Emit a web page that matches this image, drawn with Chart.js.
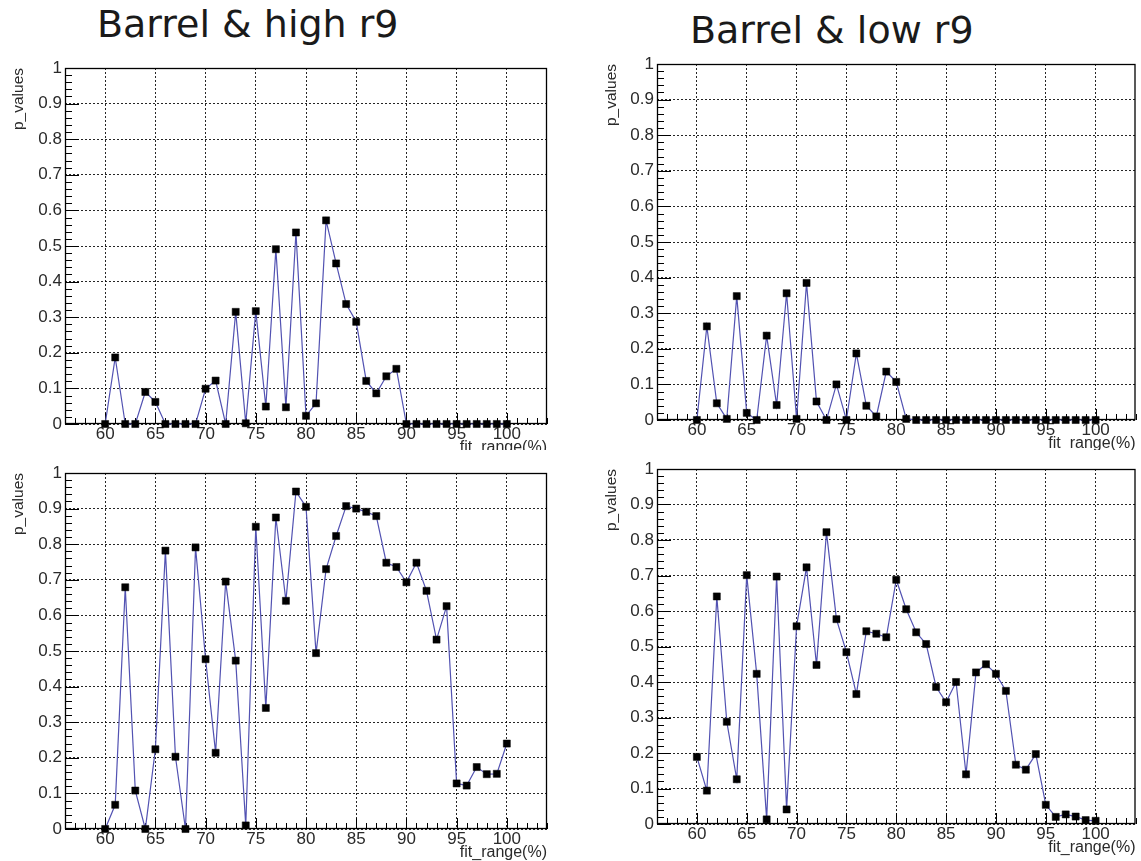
<!DOCTYPE html>
<html><head><meta charset="utf-8">
<script src="https://cdn.jsdelivr.net/npm/chart.js@4/dist/chart.umd.min.js"></script>
<style>
html,body{margin:0;padding:0;background:#fff;}
body{width:1141px;height:861px;position:relative;overflow:hidden;}
.c{position:absolute;}
.t{position:absolute;font-family:"DejaVu Sans";font-size:38px;line-height:38px;color:#1a1a1a;white-space:nowrap;}
</style></head><body>
<div class="t" style="left:97px;top:5px">Barrel &amp; high r9</div>
<div class="t" style="left:690px;top:11px">Barrel &amp; low r9</div>
<canvas id="c1" class="c" width="570" height="450" style="left:0;top:0"></canvas>
<canvas id="c2" class="c" width="571" height="450" style="left:570px;top:0"></canvas>
<canvas id="c3" class="c" width="570" height="411" style="left:0;top:450px"></canvas>
<canvas id="c4" class="c" width="571" height="411" style="left:570px;top:450px"></canvas>
<script>
// ---- data ----
const fitRange = [60,61,62,63,64,65,66,67,68,69,70,71,72,73,74,75,76,77,78,79,80,
                  81,82,83,84,85,86,87,88,89,90,91,92,93,94,95,96,97,98,99,100];
const highR9Top = [0,0.187,0,0,0.09,0.062,0,0,0,0,0.099,0.122,0,0.315,0.002,0.317,0.049,0.491,0.047,0.538,0.023,
                   0.058,0.572,0.451,0.337,0.287,0.121,0.086,0.134,0.155,0,0,0,0,0,0,0,0,0,0,0];
const lowR9Top = [0,0.263,0.047,0.003,0.348,0.02,0,0.237,0.042,0.356,0.003,0.385,0.052,0,0.1,0,0.187,0.04,0.01,0.136,0.107,
                  0.003,0,0,0,0,0,0,0,0,0,0,0,0,0,0,0,0,0,0,0];
const highR9Bottom = [0,0.068,0.679,0.108,0,0.224,0.782,0.203,0,0.791,0.477,0.214,0.695,0.473,0.01,0.849,0.34,0.875,0.641,0.948,0.905,
                      0.494,0.73,0.823,0.907,0.9,0.891,0.879,0.748,0.736,0.693,0.748,0.669,0.532,0.626,0.128,0.122,0.174,0.154,0.155,0.24];
const lowR9Bottom = [0.189,0.094,0.641,0.288,0.126,0.701,0.423,0.013,0.697,0.041,0.557,0.723,0.448,0.822,0.577,0.484,0.366,0.543,0.536,0.526,0.688,
                     0.605,0.54,0.507,0.386,0.343,0.4,0.14,0.427,0.45,0.423,0.375,0.167,0.153,0.197,0.054,0.02,0.027,0.021,0.011,0.009];
const xTicks = [60,65,70,75,80,85,90,95,100];
const xTickLabels = ['60','65','70','75','80','85','90','95','100'];
const yTicks = [0,0.1,0.2,0.3,0.4,0.5,0.6,0.7,0.8,0.9,1];
const yTickLabels = ['0','0.1','0.2','0.3','0.4','0.5','0.6','0.7','0.8','0.9','1'];
const xMinorTicks = [57,58,59,61,62,63,64,66,67,68,69,71,72,73,74,76,77,78,79,81,82,83,84,86,87,88,89,91,92,93,94,96,97,98,99,101,102,103,104];
const yMinorTicks = [0.02,0.04,0.06,0.08,0.12,0.14,0.16,0.18,0.22,0.24,0.26,0.28,0.32,0.34,0.36,0.38,0.42,0.44,0.46,0.48,
                     0.52,0.54,0.56,0.58,0.62,0.64,0.66,0.68,0.72,0.74,0.76,0.78,0.82,0.84,0.86,0.88,0.92,0.94,0.96,0.98];
const xTitle = 'fit_range(%)';
const yTitle = 'p_values';

const FONT = '"Liberation Sans", Arial, Helvetica, sans-serif';
const XH = 33;

const rootFrame = {
  id: 'rootFrame',
  beforeDatasetsDraw(chart) {
    const {ctx, chartArea: a, scales: {x, y}} = chart;
    ctx.save();
    ctx.strokeStyle = '#000';
    ctx.lineWidth = 1;
    ctx.beginPath();
    xTicks.forEach(v => { const px = Math.round(x.getPixelForValue(v)) + 0.5; ctx.moveTo(px, a.bottom); ctx.lineTo(px, a.bottom - 11); });
    xMinorTicks.forEach(v => { const px = Math.round(x.getPixelForValue(v)) + 0.5; ctx.moveTo(px, a.bottom); ctx.lineTo(px, a.bottom - 6); });
    yTicks.forEach(v => { const py = Math.round(y.getPixelForValue(v)) + 0.5; ctx.moveTo(a.left, py); ctx.lineTo(a.left + 14, py); });
    yMinorTicks.forEach(v => { const py = Math.round(y.getPixelForValue(v)) + 0.5; ctx.moveTo(a.left, py); ctx.lineTo(a.left + 7, py); });
    ctx.stroke();
    ctx.lineWidth = 1.3;
    ctx.strokeRect(a.left + 0.5, a.top + 0.5, a.right - a.left - 1, a.bottom - a.top - 1);
    ctx.restore();
  }
};

function makePanel(id, values, g) {
  const canvas = document.getElementById(id);
  const W = canvas.width, H = canvas.height;
  new Chart(canvas, {
    type: 'line',
    data: {
      datasets: [{
        data: fitRange.map((f, i) => ({x: f, y: values[i]})),
        borderColor: 'rgb(82,82,178)',
        borderWidth: 1.2,
        pointStyle: 'rect',
        pointRadius: 5,
        pointBackgroundColor: '#000',
        pointBorderColor: '#000',
        pointBorderWidth: 0.5,
        tension: 0,
        clip: false
      }]
    },
    options: {
      responsive: false,
      animation: false,
      devicePixelRatio: 1,
      layout: {padding: {left: 0, top: g.top, right: W - g.right, bottom: H - g.bottom - XH}},
      plugins: {legend: {display: false}, tooltip: {enabled: false}, title: {display: false}},
      scales: {
        x: {
          type: 'linear', min: 56, max: 104,
          afterBuildTicks: s => { s.ticks = xTicks.map(v => ({value: v})); },
          afterFit: s => { s.height = XH; },
          ticks: {padding: 0, color: '#2a2a2a', font: {family: FONT, size: 17}, maxRotation: 0,
                  callback: (v, i) => xTickLabels[i]},
          grid: {display: true, drawTicks: false, color: 'rgba(0,0,0,0.85)', lineWidth: 1},
          border: {display: false, dash: [2, 2]},
          title: {display: true, text: xTitle, align: 'end', color: '#2a2a2a', font: {family: FONT, size: 16}, padding: {top: 0, bottom: 0}}
        },
        y: {
          type: 'linear', min: 0, max: 1,
          afterBuildTicks: s => { s.ticks = yTicks.map(v => ({value: v})); },
          afterFit: s => { s.width = g.left; },
          ticks: {padding: 3, color: '#2a2a2a', font: {family: FONT, size: 17},
                  callback: (v, i) => yTickLabels[i]},
          grid: {display: true, drawTicks: false, color: 'rgba(0,0,0,0.85)', lineWidth: 1},
          border: {display: false, dash: [2, 2]},
          title: {display: true, text: yTitle, align: 'end', color: '#2a2a2a', font: {family: FONT, size: 15.5}, padding: {top: g.yt, bottom: 0}}
        }
      }
    },
    plugins: [rootFrame]
  });
}

makePanel('c1', highR9Top,    {left: 65, top: 68, right: 547, bottom: 424, yt: 9.5});
makePanel('c2', lowR9Top,     {left: 87, top: 64, right: 568, bottom: 420, yt: 32.5});
makePanel('c3', highR9Bottom, {left: 65, top: 23, right: 547, bottom: 379, yt: 9.5});
makePanel('c4', lowR9Bottom,  {left: 87, top: 19, right: 568, bottom: 374, yt: 32.5});
</script>
</body></html>
